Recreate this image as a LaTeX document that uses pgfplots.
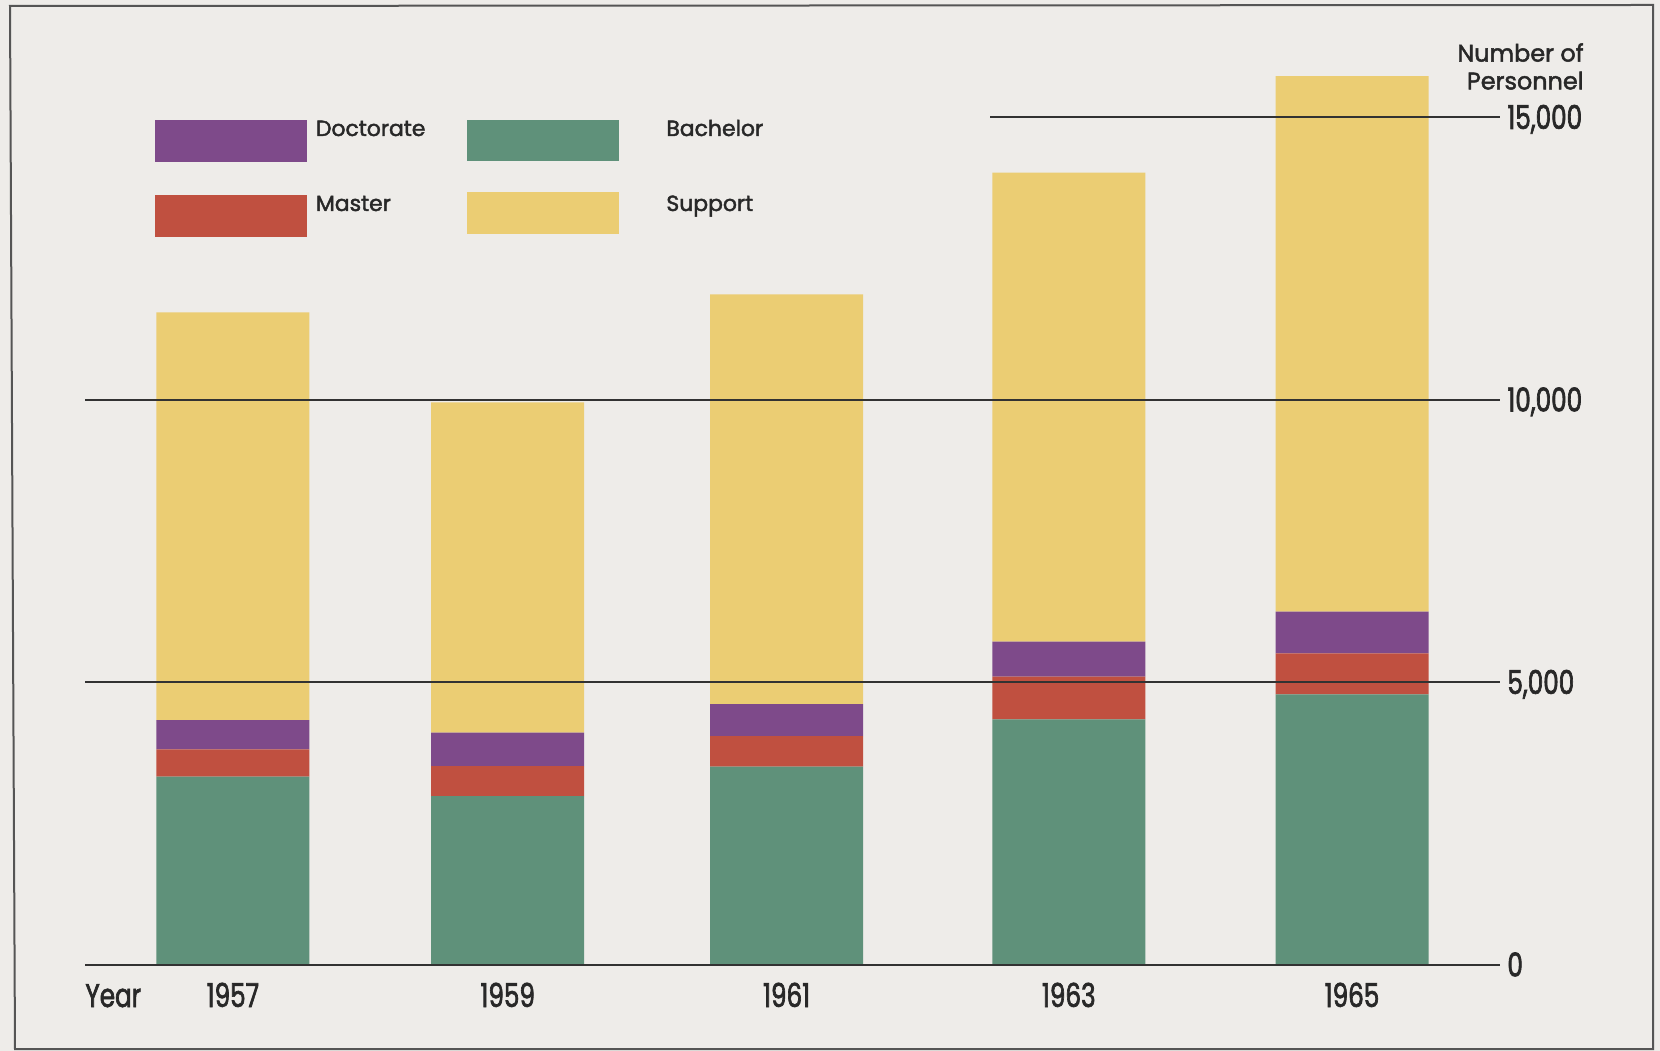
\documentclass[border=0pt]{standalone}
\usepackage{pgfplots}
\pgfplotsset{compat=1.18}
\usepackage{pgfplotstable}
\usepackage{fontspec}
\setmainfont{Poppins}
\newfontfamily\medfont{Poppins}[FakeBold=2]
\newfontfamily\numfont{Poppins}[FakeStretch=0.75, FakeBold=2]
\definecolor{bgc}{RGB}{238,236,233}
\definecolor{framec}{RGB}{85,85,85}
\definecolor{txt}{RGB}{40,40,40}
\definecolor{cB}{RGB}{95,145,122}
\definecolor{cM}{RGB}{192,80,64}
\definecolor{cD}{RGB}{126,74,138}
\definecolor{cS}{RGB}{235,205,115}
\definecolor{gridc}{RGB}{50,50,50}
\pgfplotstableread{
x B M D S
232.9 3333 485 518 7216
507.7 2991 531 590 5847
786.6 3510 543 566 7252
1068.8 4349 757 618 8301
1352 4791 726 736 9478
}\data
\begin{document}
\begin{tikzpicture}
\fill[bgc] (0bp,0bp) rectangle (830bp,525.5bp);
\draw[framec, line width=1bp] (5bp,522.5bp) -- (826.5bp,523bp) -- (826.5bp,1bp) -- (7.5bp,1bp) -- cycle;
% legend
\fill[cD] (77.3bp,444.5bp) rectangle (153.5bp,465.7bp);
\fill[cM] (77.3bp,407bp) rectangle (153.5bp,428.1bp);
\fill[cB] (233.5bp,445bp) rectangle (309.7bp,465.7bp);
\fill[cS] (233.5bp,408.5bp) rectangle (309.7bp,429.7bp);
\begin{scope}[every node/.style={inner sep=0pt, anchor=base west, text=txt, font=\medfont\fontsize{11}{13}\selectfont}]
\node at (157.8bp,457.5bp) {Doctorate};
\node at (157.8bp,420bp) {Master};
\node at (333bp,457.5bp) {Bachelor};
\node at (333bp,420bp) {Support};
\end{scope}
\node[inner sep=0pt, anchor=base east, text=txt, font=\medfont\fontsize{12}{14}\selectfont] at (792bp,494.7bp) {Number of};
\node[inner sep=0pt, anchor=base east, text=txt, font=\medfont\fontsize{12}{14}\selectfont] at (792bp,480.8bp) {Personnel};
\begin{axis}[
  at={(42.5bp,43bp)}, anchor=south west,
  scale only axis, width=707.5bp, height=452bp,
  xmin=85, xmax=1500, ymin=0, ymax=16000,
  clip=false,
  ybar stacked, bar width=153,
  axis line style={draw=none},
  major tick length=0pt,
  tick style={draw=none},
  xtick={232.9,507.7,786.6,1068.8,1352},
  xticklabels={1957,1959,1961,1963,1965},
  ytick={0,5000,10000,15000},
  yticklabel pos=right,
  scaled y ticks=false,
  /pgf/number format/.cd, 1000 sep={,}, assume math mode=true,
  /pgfplots/.cd,
  yticklabel style={font=\numfont\fontsize{16.5}{18}\selectfont, text=txt, anchor=base west, inner sep=0pt, xshift=3.5bp, yshift=-5.75bp},
  xticklabel style={font=\numfont\fontsize{16.5}{18}\selectfont, text=txt, anchor=base, inner sep=0pt, yshift=-21bp},
]
\addplot[draw=none, fill=cB] table[x=x, y=B] {\data};
\addplot[draw=none, fill=cM] table[x=x, y=M] {\data};
\addplot[draw=none, fill=cD] table[x=x, y=D] {\data};
\addplot[draw=none, fill=cS] table[x=x, y=S] {\data};
\coordinate (g5a) at (axis cs:85,5000);
\coordinate (g5b) at (axis cs:1500,5000);
\coordinate (g10a) at (axis cs:85,10000);
\coordinate (g10b) at (axis cs:1500,10000);
\coordinate (g15a) at (axis cs:990,15000);
\coordinate (g15b) at (axis cs:1500,15000);
\coordinate (g0a) at (axis cs:85,0);
\coordinate (g0b) at (axis cs:1500,0);
\node[inner sep=0pt, anchor=base west, text=txt, font=\numfont\fontsize{16.5}{18}\selectfont, yshift=-21bp] at (axis cs:85,0) {Year};
\end{axis}
\draw[gridc, line width=1bp] (g5a) -- (g5b);
\draw[gridc, line width=1bp] (g10a) -- (g10b);
\draw[gridc, line width=1bp] (g15a) -- (g15b);
\draw[gridc, line width=1.4bp] (g0a) -- (g0b);
\pgfresetboundingbox
\useasboundingbox (0bp,0bp) rectangle (830bp,525.5bp);
\end{tikzpicture}
\end{document}
